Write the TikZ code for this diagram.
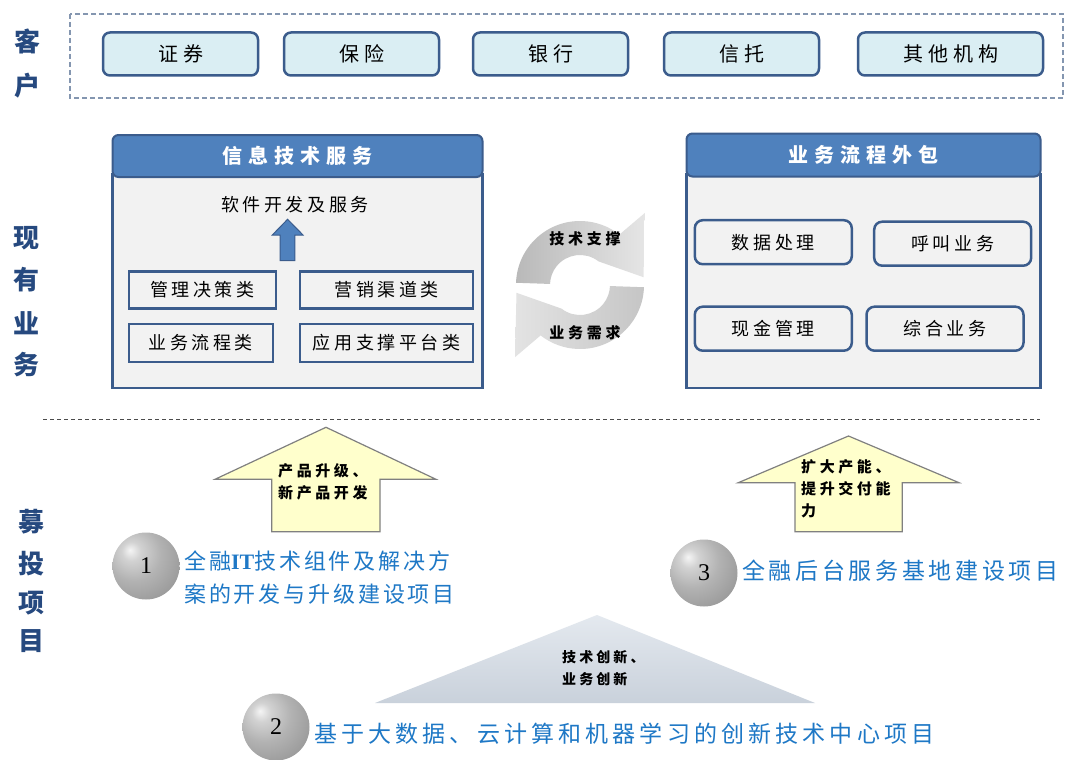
\documentclass[tikz,border=0pt]{standalone}
\usepackage{fontspec}
\newfontfamily\cjkn{Noto Sans CJK SC}
\newfontfamily\digitfont{Liberation Serif}
\newcommand\myfont[3]{\cjkn\addfontfeatures{LetterSpace=#2}\fontsize{#1}{#3}\selectfont}
\usetikzlibrary{shadings}
\definecolor{bdr}{HTML}{3B5C8C}
\definecolor{lightb}{HTML}{DAEEF3}
\definecolor{hdr}{HTML}{4F81BD}
\definecolor{bodyc}{HTML}{F2F2F2}
\definecolor{lbl}{HTML}{26497F}
\definecolor{bluetxt}{HTML}{1E78C6}
\definecolor{yel}{HTML}{FFFFCC}
\definecolor{dashc}{HTML}{8496B0}
\definecolor{tritop}{HTML}{E4E9EF}
\definecolor{tribot}{HTML}{C9D1DB}
\pgfdeclareradialshading{myball}{\pgfpoint{-12bp}{12bp}}{%
  color(0bp)=(gray!8); color(7bp)=(gray!35); color(20bp)=(gray!60);
  color(32bp)=(gray!75); color(40bp)=(gray!85); color(48bp)=(gray!75); color(80bp)=(gray!70)}
\begin{document}
\begin{tikzpicture}[x=1pt,y=1pt,
  lab/.style={text=lbl, font=\myfont{26}{0}{26}\bfseries},
  topbox/.style={draw=bdr, line width=2.5pt, fill=lightb, rounded corners=7pt, minimum height=43pt, inner sep=0pt, font=\myfont{20}{25}{20}},
  hdrbox/.style={draw=bdr, line width=2pt, fill=hdr, rounded corners=6pt, inner sep=0pt, text=white, font=\myfont{20}{30}{20}\bfseries},
  bodybox/.style={draw=bdr, line width=2.5pt, fill=bodyc, inner sep=0pt},
  sqbox/.style={draw=bdr, line width=2.5pt, fill=bodyc, inner sep=0pt, font=\myfont{18}{20}{18}},
  rbox/.style={sqbox, rounded corners=8pt},
  cyclbl/.style={font=\myfont{15}{25}{15}\bfseries, inner sep=0pt},
  yarrow/.style={draw=gray, line width=1.2pt, fill=yel},
  arrlbl/.style={font=\myfont{15}{24}{22}\bfseries, align=left, inner sep=0pt},
  bluet/.style={text=bluetxt, align=left, inner sep=0pt},
  ballst/.style={circle, shading=myball, minimum size=67pt, inner sep=0pt, font=\digitfont\fontsize{24}{24}\selectfont}
]
\useasboundingbox (0,0) rectangle (1069,-760);
\fill[white] (0,0) rectangle (1069,-760);

% ---- customers row
\draw[dashc, line width=1.2pt, dash pattern=on 5pt off 3pt] (70,-14) rectangle (1063,-98);
\node[lab] (k1) at (27,-41) {客};
\node[lab] (k2) at (27,-86) {户};
\node[topbox, minimum width=155pt] (b1) at (180.5,-54) {证券};
\node[topbox, minimum width=155pt] (b2) at (361.5,-54) {保险};
\node[topbox, minimum width=155pt] (b3) at (550.5,-54) {银行};
\node[topbox, minimum width=155pt] (b4) at (741.5,-54) {信托};
\node[topbox, minimum width=185pt] (b5) at (950.5,-54) {其他机构};

% ---- side labels
\node[lab] (x1) at (26,-238) {现};
\node[lab] (x2) at (26,-280) {有};
\node[lab] (x3) at (26,-323) {业};
\node[lab] (x4) at (26,-365) {务};
\node[lab] (y1) at (32,-522) {募};
\node[lab] (y2) at (32,-564) {投};
\node[lab] (y3) at (32,-603) {项};
\node[lab] (y4) at (32,-641) {目};

% ---- left panel
\node[bodybox, minimum width=370pt, minimum height=214pt] (lb) at (297.5,-281) {};
\node[hdrbox, minimum width=370pt, minimum height=42pt] (lh) at (297.5,-156) {信息技术服务};
\node[font=\myfont{18}{20}{18}, inner sep=0pt] (soft) at (295,-205) {软件开发及服务};
\filldraw[fill=hdr, draw=bdr, line width=1pt] (280,-260.7) -- (280,-235) -- (272.3,-235) -- (287.6,-219.3) -- (303,-235) -- (294.8,-235) -- (294.8,-260.7) -- cycle;
\node[sqbox, minimum width=147pt, minimum height=37pt] (m1) at (202.3,-290) {管理决策类};
\node[sqbox, minimum width=173pt, minimum height=37pt] (m2) at (386.7,-290) {营销渠道类};
\node[sqbox, minimum width=144pt, minimum height=38pt] (m3) at (200.8,-343) {业务流程类};
\node[sqbox, minimum width=173pt, minimum height=38pt] (m4) at (386.7,-343) {应用支撑平台类};

% ---- right panel
\node[bodybox, minimum width=354pt, minimum height=214pt] (rb) at (863.5,-281) {};
\node[hdrbox, minimum width=354pt, minimum height=43pt] (rh) at (863.5,-155) {业务流程外包};
\node[rbox, minimum width=157pt, minimum height=44pt] (p1) at (773.3,-242.2) {数据处理};
\node[rbox, minimum width=157pt, minimum height=44pt] (p2) at (952.7,-243.7) {呼叫业务};
\node[rbox, minimum width=157pt, minimum height=44pt] (p3) at (773.3,-328.7) {现金管理};
\node[rbox, minimum width=157pt, minimum height=44pt] (p4) at (945,-328.7) {综合业务};

% ---- cycle arrows
\begin{scope}[shift={(580,-285)}]
  \shade[left color=gray!55, right color=gray!20]
    (178:64) arc[start angle=178, end angle=52, radius=64] -- (48:97) -- (7:64) -- (52:30)
    arc[start angle=52, end angle=178, radius=30] -- cycle;
  \shade[left color=gray!22, right color=gray!45]
    (358:64) arc[start angle=358, end angle=232, radius=64] -- (228:97) -- (187:64) -- (232:30)
    arc[start angle=232, end angle=358, radius=30] -- cycle;
\end{scope}
\node[cyclbl] (c1lbl) at (585,-239) {技术支撑};
\node[cyclbl] (c2lbl) at (585,-333) {业务需求};

% ---- divider
\draw[gray!60!black, line width=1pt, dash pattern=on 4pt off 3pt] (43,-419) -- (1040,-419);

% ---- yellow arrows
\filldraw[yarrow] (271.7,-531.7) -- (271.7,-479.3) -- (215,-479.3) -- (326,-427.3) -- (436,-479.3) -- (380,-479.3) -- (380,-531.7) -- cycle;
\node[arrlbl, anchor=west] (a1) at (278,-482) {产品升级、\\新产品开发};
\filldraw[yarrow] (795,-531.7) -- (795,-482.7) -- (738.3,-482.7) -- (848.5,-436) -- (959,-482.7) -- (902.3,-482.7) -- (902.3,-531.7) -- cycle;
\node[arrlbl, anchor=west] (a3) at (801,-489) {扩大产能、\\提升交付能\\力};

% ---- triangle
\shade[top color=tritop, bottom color=tribot] (597,-615) -- (815,-703) -- (375,-703) -- cycle;
\node[arrlbl, font=\myfont{14}{22}{22}\bfseries, anchor=west] (tri) at (562,-668) {技术创新、\\业务创新};

% ---- projects
\node[ballst] (c1) at (146,-566) {1};
\node[bluet, anchor=west, font=\myfont{22}{13}{33}] (t1) at (184,-578) {全融{\digitfont\bfseries IT}技术组件及解决方\\案的开发与升级建设项目};
\node[ballst] (c3) at (704,-573) {3};
\node[bluet, anchor=west, font=\myfont{23}{16}{33}] (t3) at (742,-571) {全融后台服务基地建设项目};
\node[ballst] (c2) at (276,-727) {2};
\node[bluet, anchor=west, font=\myfont{23}{18}{33}] (t2) at (314,-734) {基于大数据、云计算和机器学习的创新技术中心项目};
\end{tikzpicture}
\end{document}
